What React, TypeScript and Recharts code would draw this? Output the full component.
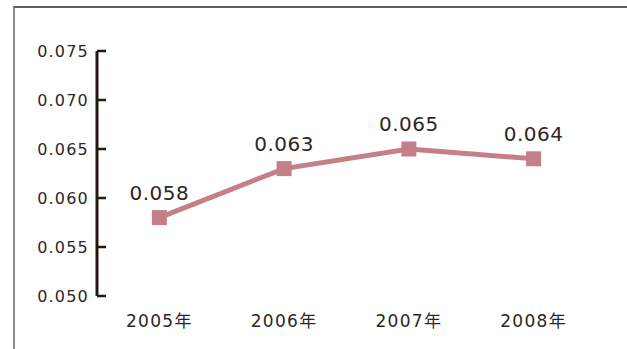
import React from 'react';
import { LineChart, Line, XAxis, YAxis, LabelList } from 'recharts';

const years = ['2005年', '2006年', '2007年', '2008年'];
const values = [0.058, 0.063, 0.065, 0.064];
const yTicks = [0.05, 0.055, 0.06, 0.065, 0.07, 0.075];
const bandEdges = [0, 1, 2, 3, 4];

const LINE_COLOR = '#c47f88';
const AXIS_COLOR = '#231815';
const TEXT_COLOR = '#2e2624';
const FONT = '"DejaVu Sans", "Noto Sans CJK SC", sans-serif';

// each year sits in the middle of its band
const data = years.map((year, i) => ({ pos: i + 0.5, year, value: values[i] }));
const labelTicks = data.map((d) => d.pos);

const SquareDot = (props: any) => {
  const { cx, cy } = props;
  if (cx == null || cy == null) return null;
  return <rect x={cx - 7.5} y={cy - 7.5} width={15} height={15} fill={LINE_COLOR} />;
};

const ValueLabel = (props: any) => {
  const { x, y, value } = props;
  return (
    <text
      x={x}
      y={y - 18}
      textAnchor="middle"
      fill={TEXT_COLOR}
      fontSize={20}
      fontFamily={FONT}
      letterSpacing={0.5}
    >
      {Number(value).toFixed(3)}
    </text>
  );
};

export default function App() {
  return (
    <div style={{ position: 'absolute', left: 0, top: 0, width: 627, height: 349, background: '#fff' }}>
      <div
        style={{
          position: 'absolute',
          left: 13,
          top: 6,
          right: 0,
          bottom: 0,
          borderTop: '2px solid #5f5f5f',
          borderLeft: '2px solid #8c8c8c',
        }}
      />
      <LineChart
        width={627}
        height={349}
        data={data}
        margin={{ top: 51, right: 31, left: 0, bottom: 0 }}
        style={{ position: 'absolute', left: 0, top: 0 }}
      >
        <XAxis
          xAxisId="edges"
          dataKey="pos"
          type="number"
          domain={[0, 4]}
          ticks={bandEdges}
          tick={false}
          height={0}
          tickSize={-7}
          axisLine={{ stroke: AXIS_COLOR, strokeWidth: 3 }}
          tickLine={{ stroke: AXIS_COLOR, strokeWidth: 2.5 }}
        />
        <XAxis
          xAxisId="labels"
          dataKey="pos"
          type="number"
          domain={[0, 4]}
          ticks={labelTicks}
          tickFormatter={(v: number) => years[Math.floor(v)]}
          height={53}
          axisLine={false}
          tickLine={false}
          tickSize={0}
          tickMargin={19}
          interval={0}
          tick={{ fill: TEXT_COLOR, fontSize: 17, fontFamily: FONT, letterSpacing: 1.3 }}
        />
        <YAxis
          type="number"
          domain={[0.05, 0.075]}
          ticks={yTicks}
          width={97}
          interval={0}
          tickFormatter={(v: number) => v.toFixed(3)}
          tickSize={-9}
          tickMargin={17}
          axisLine={{ stroke: AXIS_COLOR, strokeWidth: 3 }}
          tickLine={{ stroke: AXIS_COLOR, strokeWidth: 2.5 }}
          tick={{ fill: TEXT_COLOR, fontSize: 16, fontFamily: FONT, letterSpacing: 1.2 }}
        />
        <Line
          xAxisId="edges"
          dataKey="value"
          type="linear"
          stroke={LINE_COLOR}
          strokeWidth={5}
          dot={<SquareDot />}
          activeDot={false}
          isAnimationActive={false}
        >
          <LabelList dataKey="value" content={<ValueLabel />} />
        </Line>
      </LineChart>
    </div>
  );
}
